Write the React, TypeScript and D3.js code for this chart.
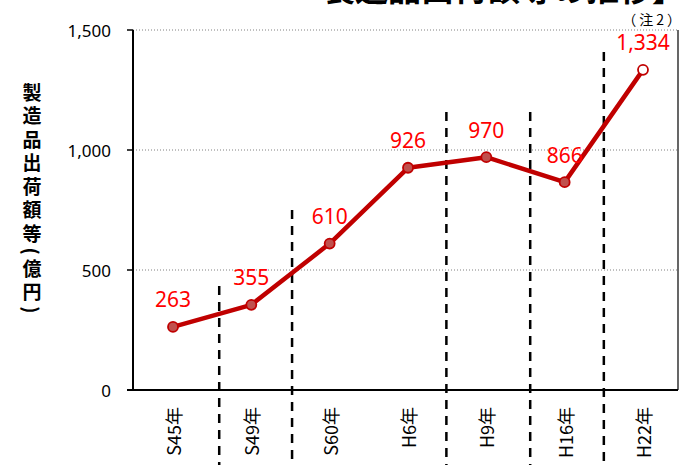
import React from 'react';
import * as d3 from 'd3';

const categories = ['S45年', 'S49年', 'S60年', 'H6年', 'H9年', 'H16年', 'H22年'];
const values = [263, 355, 610, 926, 970, 866, 1334];
const hollowIndex = 6;
const yTicks = [0, 500, 1000, 1500];
const gridValues = [500, 1000, 1500];
const dividerPos = [0.59, 1.52, 3.49, 4.56, 5.5];
const dividerTop = [433, 750, 1158, 1158, 1408];
const titleText = '製造品出荷額等の推移】';
const noteText = '（注2）';
const yTitleText = '製造品出荷額等(億円)';

const W = 688;
const H = 465;
const plotLeft = 133;
const plotRight = 678;
const plotTop = 30;
const plotBottom = 390;

export default function App() {
  const x = d3.scaleLinear().domain([0, categories.length - 1]).range([173, 643]);
  const y = d3.scaleLinear().domain([0, 1500]).range([plotBottom, plotTop]);
  const line = d3
    .line<number>()
    .x((_, i) => x(i))
    .y((d) => y(d));
  const fmt = d3.format(',');
  const cjk = '"Noto Sans CJK JP", "Noto Sans", sans-serif';
  const num = '"Noto Sans", "Open Sans", sans-serif';

  return (
    <div style={{ position: 'fixed', left: 0, top: 0 }}>
      <svg width={W} height={H} style={{ display: 'block', background: '#fff' }}>
        {/* title (cropped) */}
        <text x={322} y={1} fontFamily={cjk} fontWeight="bold" fontSize={33} fill="#000">
          {titleText}
        </text>
        <text
          x={684}
          y={19}
          textAnchor="end"
          dominantBaseline="central"
          fontFamily={cjk}
          fontSize={14}
          fill="#000"
          style={{ letterSpacing: '3px' }}
        >
          {noteText}
        </text>

        {/* grid lines */}
        {gridValues.map((g) => (
          <line
            key={g}
            x1={plotLeft}
            x2={plotRight}
            y1={y(g)}
            y2={y(g)}
            stroke="#808080"
            strokeWidth={1}
            strokeDasharray="1,2"
          />
        ))}

        {/* right border */}
        <line x1={plotRight} x2={plotRight} y1={plotTop} y2={plotBottom} stroke="#000" strokeWidth={1.2} />

        {/* axes */}
        <line x1={plotLeft} x2={plotLeft} y1={plotTop} y2={plotBottom} stroke="#000" strokeWidth={2} />
        <line x1={plotLeft - 6} x2={plotRight} y1={plotBottom} y2={plotBottom} stroke="#000" strokeWidth={2} />
        {yTicks.map((t) => (
          <g key={t}>
            <line x1={plotLeft - 6} x2={plotLeft} y1={y(t)} y2={y(t)} stroke="#000" strokeWidth={1.5} />
            <text
              x={111}
              y={y(t)}
              textAnchor="end"
              dominantBaseline="central"
              fontFamily={num}
              fontSize={17}
              fill="#000"
            >
              {fmt(t)}
            </text>
          </g>
        ))}

        {/* x labels */}
        {categories.map((c, i) => (
          <text
            key={c}
            transform={`translate(${x(i)},407) rotate(-90)`}
            textAnchor="end"
            dominantBaseline="central"
            fontFamily={cjk}
            fontSize={18}
            fill="#000"
          >
            {c}
          </text>
        ))}

        {/* era dividers */}
        {dividerPos.map((p, i) => (
          <line
            key={i}
            x1={x(p)}
            x2={x(p)}
            y1={y(dividerTop[i])}
            y2={H}
            stroke="#000"
            strokeWidth={2.5}
            strokeDasharray="9,7"
          />
        ))}

        {/* y title */}
        <text
          x={32}
          y={83}
          fontFamily={cjk}
          fontWeight="bold"
          fontSize={19}
          fill="#000"
          style={{ writingMode: 'vertical-rl', letterSpacing: '4.5px' } as any}
        >
          {yTitleText}
        </text>

        {/* series line */}
        <path d={line(values) || ''} fill="none" stroke="#C00000" strokeWidth={4.5} strokeLinejoin="round" />
        {values.map((v, i) => (
          <circle
            key={i}
            cx={x(i)}
            cy={y(v)}
            r={5}
            fill={i === hollowIndex ? '#fff' : '#C0504D'}
            stroke="#C00000"
            strokeWidth={1.8}
          />
        ))}
        {values.map((v, i) => (
          <text
            key={'l' + i}
            x={x(i)}
            y={y(v) - 27.5}
            textAnchor="middle"
            dominantBaseline="central"
            fontFamily={num}
            fontSize={21}
            fill="#FF0000"
          >
            {fmt(v)}
          </text>
        ))}
      </svg>
    </div>
  );
}
